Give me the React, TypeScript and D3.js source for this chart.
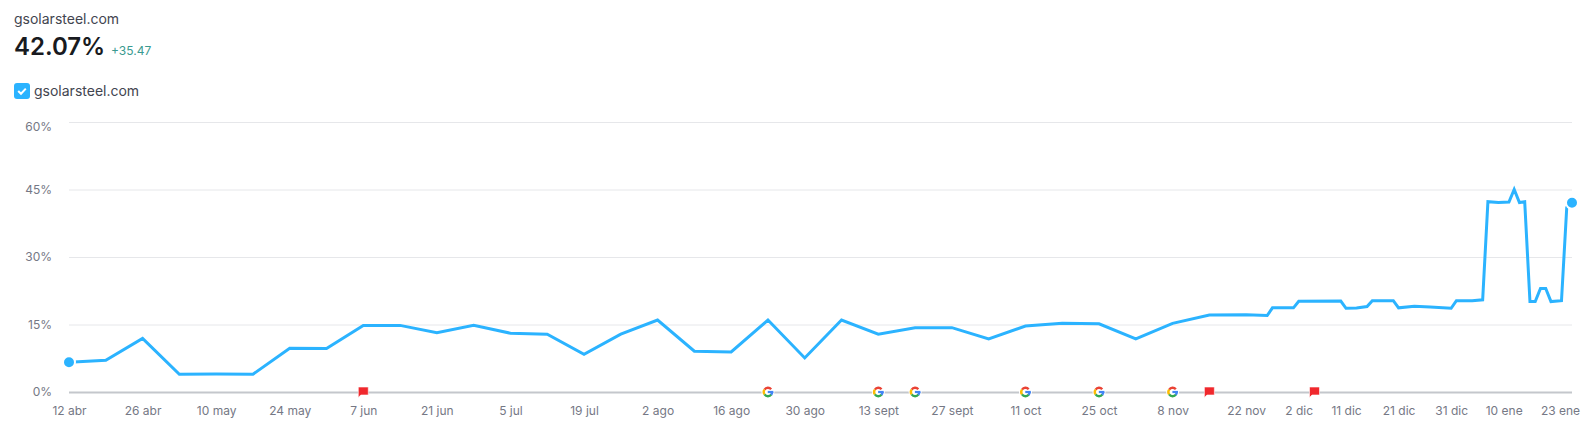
import React, { useRef, useEffect } from 'react'
import * as d3 from 'd3'

const domainName = 'gsolarsteel.com'
const headline = '42.07%'
const headlineChange = '+35.47'

const dates = [
  '2023-04-12', '2023-04-19', '2023-04-26', '2023-05-03', '2023-05-10', '2023-05-17', '2023-05-24', '2023-05-31',
  '2023-06-07', '2023-06-14', '2023-06-21', '2023-06-28', '2023-07-05', '2023-07-12', '2023-07-19', '2023-07-26',
  '2023-08-02', '2023-08-09', '2023-08-16', '2023-08-23', '2023-08-30', '2023-09-06', '2023-09-13', '2023-09-20',
  '2023-09-27', '2023-10-04', '2023-10-11', '2023-10-18', '2023-10-25', '2023-11-01', '2023-11-08', '2023-11-15',
  '2023-11-22', '2023-11-26', '2023-11-27', '2023-12-01', '2023-12-02', '2023-12-10', '2023-12-11', '2023-12-13',
  '2023-12-15', '2023-12-16', '2023-12-20', '2023-12-21', '2023-12-24', '2023-12-27', '2023-12-31', '2024-01-01',
  '2024-01-04', '2024-01-06', '2024-01-07', '2024-01-09', '2024-01-11', '2024-01-12', '2024-01-13', '2024-01-14',
  '2024-01-15', '2024-01-16', '2024-01-17', '2024-01-18', '2024-01-19', '2024-01-21', '2024-01-22', '2024-01-23',
]

const visibility = [
  6.6, 7.05, 11.9, 3.95, 4.0, 3.95, 9.7, 9.65,
  14.8, 14.8, 13.2, 14.85, 13.06, 12.85, 8.39, 12.85,
  16.0, 9.06, 8.9, 16.0, 7.57, 16.0, 12.84, 14.3,
  14.3, 11.8, 14.65, 15.25, 15.15, 11.8, 15.25, 17.1,
  17.15, 17.0, 18.7, 18.7, 20.15, 20.2, 18.6, 18.65,
  19.0, 20.3, 20.3, 18.7, 19.05, 18.9, 18.6, 20.3,
  20.3, 20.5, 42.3, 42.1, 42.2, 45.0, 42.1, 42.3,
  20.1, 20.1, 23.0, 23.0, 20.1, 20.3, 41.0, 42.07,
]

const yTicks = [0, 15, 30, 45, 60]

const xTickDates = [
  '2023-04-12', '2023-04-26', '2023-05-10', '2023-05-24', '2023-06-07', '2023-06-21', '2023-07-05', '2023-07-19',
  '2023-08-02', '2023-08-16', '2023-08-30', '2023-09-13', '2023-09-27', '2023-10-11', '2023-10-25', '2023-11-08',
  '2023-11-22', '2023-12-02', '2023-12-11', '2023-12-21', '2023-12-31', '2024-01-10', '2024-01-23',
]
const xTickLabels = [
  '12 abr', '26 abr', '10 may', '24 may', '7 jun', '21 jun', '5 jul', '19 jul',
  '2 ago', '16 ago', '30 ago', '13 sept', '27 sept', '11 oct', '25 oct', '8 nov',
  '22 nov', '2 dic', '11 dic', '21 dic', '31 dic', '10 ene', '23 ene',
]

const googleEvents = ['2023-08-23', '2023-09-13', '2023-09-20', '2023-10-11', '2023-10-25', '2023-11-08']
const flagEvents = ['2023-06-07', '2023-11-15', '2023-12-05']

const FONT = 'Inter, sans-serif'
const LINE = '#2bb3ff'
const GREY = '#757885'

const parse = d3.utcParse('%Y-%m-%d')

const drawGoogle = (g: any) => {
  const arc = d3.arc().innerRadius(3).outerRadius(5.4)
  const toRad = (d: number) => (d * Math.PI) / 180
  g.append('circle').attr('r', 6.5).attr('fill', '#fff')
  g.append('path')
    .attr('d', arc({ startAngle: toRad(-55), endAngle: toRad(50) } as any))
    .attr('fill', '#ea4335')
  g.append('path')
    .attr('d', arc({ startAngle: toRad(-125), endAngle: toRad(-55) } as any))
    .attr('fill', '#fbbc05')
  g.append('path')
    .attr('d', arc({ startAngle: toRad(-235), endAngle: toRad(-125) } as any))
    .attr('fill', '#34a853')
  g.append('path')
    .attr('d', arc({ startAngle: toRad(90), endAngle: toRad(130) } as any))
    .attr('fill', '#4285f4')
  g.append('rect').attr('x', -0.2).attr('y', -1.1).attr('width', 5.6).attr('height', 2.2).attr('fill', '#4285f4')
}

export default function App() {
  const ref = useRef<SVGSVGElement>(null)

  useEffect(() => {
    const svg = d3.select(ref.current)
    svg.selectAll('*').remove()

    const x = d3
      .scaleUtc()
      .domain([parse('2023-04-12') as Date, parse('2024-01-23') as Date])
      .range([69, 1572])
    const y = d3.scaleLinear().domain([0, 60]).range([392, 122])

    // gridlines and y labels
    const yAxis = d3
      .axisLeft(y)
      .tickValues(yTicks)
      .tickSize(-1503)
      .tickPadding(17)
      .tickFormat((d) => `${d}%`)
    const yG = svg.append('g').attr('transform', 'translate(69, 0)').call(yAxis as any)
    yG.select('.domain').remove()
    yG.selectAll('line')
      .attr('stroke', (d) => (d === 0 ? '#c4c7cc' : '#e6e7ea'))
      .attr('stroke-width', (d) => (d === 0 ? 2 : 1))
    // top label sits a little under its gridline
    yG.selectAll('text')
      .attr('fill', GREY)
      .style('font-family', FONT)
      .style('font-size', '12px')
      .attr('y', (d) => (d === 60 ? 5 : 0))

    // date labels, the last one is pulled back so it stays in the page
    const xAxis = d3
      .axisBottom(x)
      .tickValues(xTickDates.map((d) => parse(d) as Date))
      .tickSize(0)
      .tickPadding(14)
      .tickFormat((d, i) => xTickLabels[i])
    const xG = svg.append('g').attr('transform', 'translate(0, 392)').call(xAxis as any)
    xG.select('.domain').remove()
    xG.selectAll('text')
      .attr('fill', GREY)
      .style('font-family', FONT)
      .style('font-size', '12px')
      .attr('dx', (d, i) => (i === xTickLabels.length - 1 ? -12 : 0))

    const points = dates.map((d, i) => ({ date: parse(d) as Date, value: visibility[i] }))
    const line = d3
      .line<{ date: Date; value: number }>()
      .x((d) => x(d.date))
      .y((d) => y(d.value))
      .curve(d3.curveLinear)

    svg
      .append('path')
      .datum(points)
      .attr('fill', 'none')
      .attr('stroke', LINE)
      .attr('stroke-width', 3)
      .attr('stroke-linejoin', 'miter')
      .attr('d', line)

    const ends = [points[0], points[points.length - 1]]
    svg
      .selectAll('circle.end')
      .data(ends)
      .enter()
      .append('circle')
      .attr('class', 'end')
      .attr('cx', (d) => x(d.date))
      .attr('cy', (d) => y(d.value))
      .attr('r', 6)
      .attr('fill', LINE)
      .attr('stroke', '#fff')
      .attr('stroke-width', 2)

    // event markers on the zero line
    googleEvents.forEach((d) => {
      const g = svg.append('g').attr('transform', `translate(${x(parse(d) as Date)}, 392)`)
      drawGoogle(g)
    })
    flagEvents.forEach((d) => {
      svg
        .append('path')
        .attr('transform', `translate(${x(parse(d) as Date)}, 392)`)
        .attr('d', 'M-5,-5 L5,-5 L5,3 L-2.5,3 L-5,5.5 Z')
        .attr('fill', '#f0282d')
        .attr('stroke', '#fff')
        .attr('stroke-width', 0.6)
    })

    // header
    const text = (tx: number, ty: number, s: string, size: number, color: string, weight = 400) =>
      svg
        .append('text')
        .attr('x', tx)
        .attr('y', ty)
        .attr('fill', color)
        .style('font-family', FONT)
        .style('font-size', `${size}px`)
        .style('font-weight', weight)
        .text(s)

    text(14, 24, domainName, 14, '#42454f')
    text(14, 55, headline, 24, '#181a20', 600)
    text(111, 55, headlineChange, 12, '#3a9a90')

    svg.append('rect').attr('x', 14).attr('y', 83).attr('width', 16).attr('height', 16).attr('rx', 3).attr('fill', LINE)
    svg
      .append('path')
      .attr('d', 'M18.2,91 L21,93.8 L25.8,88.6')
      .attr('fill', 'none')
      .attr('stroke', '#fff')
      .attr('stroke-width', 2)
    text(34, 96, domainName, 14, '#42454f')
  }, [])

  return (
    <svg
      ref={ref}
      width={1595}
      height={429}
      style={{ position: 'absolute', left: 0, top: 0, background: '#fff' }}
    />
  )
}
